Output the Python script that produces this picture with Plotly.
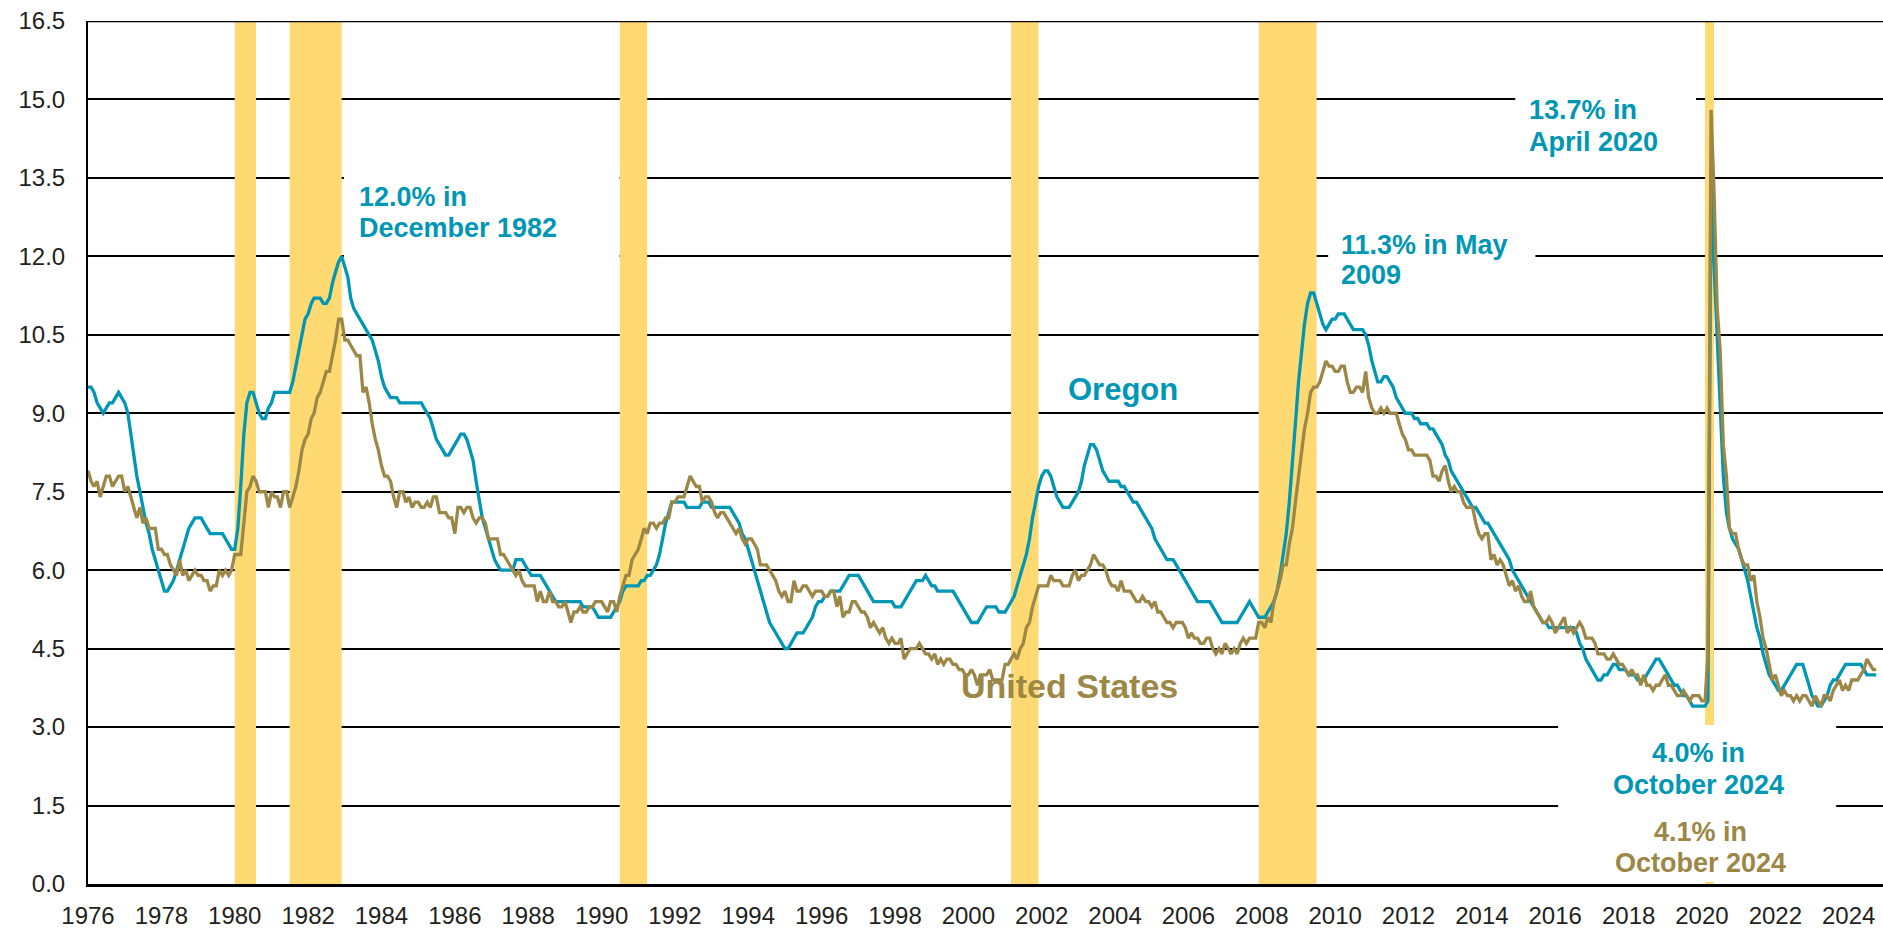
import pandas as pd
import plotly.graph_objects as go

# ---------------- data ----------------
months = pd.date_range("1976-01-01", "2024-10-01", freq="MS")

oregon_rate = [
    9.5, 9.5, 9.4, 9.2, 9.1, 9.0, 9.1, 9.2, 9.2, 9.3, 9.4, 9.3,   # 1976
    9.2, 9.0, 8.6, 8.2, 7.8, 7.5, 7.2, 6.9, 6.7, 6.4, 6.2, 6.0,   # 1977
    5.8, 5.6, 5.6, 5.7, 5.8, 6.0, 6.2, 6.4, 6.6, 6.8, 6.9, 7.0,   # 1978
    7.0, 7.0, 6.9, 6.8, 6.7, 6.7, 6.7, 6.7, 6.7, 6.6, 6.5, 6.4,   # 1979
    6.4, 6.8, 7.6, 8.6, 9.2, 9.4, 9.4, 9.2, 9.0, 8.9, 8.9, 9.1,   # 1980
    9.2, 9.4, 9.4, 9.4, 9.4, 9.4, 9.4, 9.6, 9.9, 10.2, 10.5, 10.8,  # 1981
    10.9, 11.1, 11.2, 11.2, 11.2, 11.1, 11.1, 11.2, 11.5, 11.7, 11.9, 12.0,  # 1982
    11.8, 11.6, 11.2, 11.0, 10.9, 10.8, 10.7, 10.6, 10.5, 10.4, 10.2, 10.0,  # 1983
    9.7, 9.5, 9.4, 9.3, 9.3, 9.3, 9.2, 9.2, 9.2, 9.2, 9.2, 9.2,   # 1984
    9.2, 9.2, 9.1, 9.0, 8.9, 8.7, 8.5, 8.4, 8.3, 8.2, 8.2, 8.3,   # 1985
    8.4, 8.5, 8.6, 8.6, 8.5, 8.3, 8.1, 7.7, 7.3, 7.0, 6.8, 6.6,   # 1986
    6.4, 6.2, 6.1, 6.0, 6.0, 6.0, 6.0, 6.0, 6.2, 6.2, 6.2, 6.1,   # 1987
    6.0, 5.9, 5.9, 5.9, 5.9, 5.8, 5.7, 5.6, 5.5, 5.4, 5.4, 5.4,   # 1988
    5.4, 5.4, 5.4, 5.4, 5.4, 5.4, 5.3, 5.3, 5.3, 5.3, 5.2, 5.1,   # 1989
    5.1, 5.1, 5.1, 5.1, 5.2, 5.3, 5.4, 5.6, 5.7, 5.7, 5.7, 5.7,   # 1990
    5.7, 5.8, 5.8, 5.9, 5.9, 6.0, 6.1, 6.3, 6.6, 6.9, 7.1, 7.3,   # 1991
    7.3, 7.3, 7.3, 7.3, 7.2, 7.2, 7.2, 7.2, 7.2, 7.3, 7.3, 7.3,   # 1992
    7.2, 7.2, 7.2, 7.2, 7.2, 7.2, 7.2, 7.1, 7.0, 6.9, 6.7, 6.6,   # 1993
    6.4, 6.2, 6.0, 5.8, 5.6, 5.4, 5.2, 5.0, 4.9, 4.8, 4.7, 4.6,   # 1994
    4.5, 4.5, 4.6, 4.7, 4.8, 4.8, 4.8, 4.9, 5.0, 5.1, 5.3, 5.4,   # 1995
    5.4, 5.5, 5.5, 5.6, 5.6, 5.6, 5.6, 5.7, 5.8, 5.9, 5.9, 5.9,   # 1996
    5.9, 5.8, 5.7, 5.6, 5.5, 5.4, 5.4, 5.4, 5.4, 5.4, 5.4, 5.4,   # 1997
    5.3, 5.3, 5.3, 5.4, 5.5, 5.6, 5.7, 5.8, 5.8, 5.8, 5.9, 5.8,   # 1998
    5.7, 5.7, 5.6, 5.6, 5.6, 5.6, 5.6, 5.6, 5.5, 5.4, 5.3, 5.2,   # 1999
    5.1, 5.0, 5.0, 5.0, 5.1, 5.2, 5.3, 5.3, 5.3, 5.3, 5.2, 5.2,   # 2000
    5.2, 5.3, 5.4, 5.5, 5.7, 5.9, 6.1, 6.3, 6.6, 7.0, 7.3, 7.6,   # 2001
    7.8, 7.9, 7.9, 7.8, 7.6, 7.4, 7.3, 7.2, 7.2, 7.2, 7.3, 7.4,   # 2002
    7.5, 7.7, 8.0, 8.2, 8.4, 8.4, 8.3, 8.1, 7.9, 7.8, 7.7, 7.7,   # 2003
    7.7, 7.7, 7.6, 7.6, 7.5, 7.4, 7.3, 7.3, 7.2, 7.1, 7.0, 6.9,   # 2004
    6.8, 6.6, 6.5, 6.4, 6.3, 6.2, 6.2, 6.2, 6.1, 6.0, 5.9, 5.8,   # 2005
    5.7, 5.6, 5.5, 5.4, 5.4, 5.4, 5.4, 5.4, 5.3, 5.2, 5.1, 5.0,   # 2006
    5.0, 5.0, 5.0, 5.0, 5.0, 5.1, 5.2, 5.3, 5.4, 5.3, 5.2, 5.1,   # 2007
    5.1, 5.1, 5.2, 5.3, 5.4, 5.6, 5.9, 6.3, 6.7, 7.3, 8.0, 8.8,   # 2008
    9.6, 10.2, 10.7, 11.1, 11.3, 11.3, 11.1, 10.9, 10.7, 10.6, 10.7, 10.8,  # 2009
    10.8, 10.9, 10.9, 10.9, 10.8, 10.7, 10.6, 10.6, 10.6, 10.6, 10.5, 10.3,  # 2010
    10.0, 9.8, 9.6, 9.6, 9.7, 9.7, 9.6, 9.5, 9.3, 9.2, 9.1, 9.0,  # 2011
    9.0, 9.0, 8.9, 8.9, 8.8, 8.8, 8.8, 8.7, 8.7, 8.6, 8.5, 8.4,   # 2012
    8.2, 8.1, 7.9, 7.8, 7.7, 7.6, 7.5, 7.4, 7.3, 7.2, 7.2, 7.1,   # 2013
    7.0, 6.9, 6.9, 6.8, 6.7, 6.6, 6.5, 6.4, 6.3, 6.2, 6.0, 5.9,   # 2014
    5.8, 5.7, 5.6, 5.5, 5.4, 5.3, 5.2, 5.1, 5.0, 5.0, 4.9, 4.9,   # 2015
    4.9, 4.9, 4.9, 4.9, 4.9, 4.9, 4.9, 4.8, 4.6, 4.5, 4.3, 4.2,   # 2016
    4.1, 4.0, 3.9, 3.9, 4.0, 4.0, 4.1, 4.2, 4.2, 4.1, 4.1, 4.1,   # 2017
    4.0, 4.0, 4.0, 3.9, 3.9, 3.9, 4.0, 4.1, 4.2, 4.3, 4.3, 4.2,   # 2018
    4.1, 4.0, 3.9, 3.8, 3.8, 3.7, 3.6, 3.6, 3.5, 3.4, 3.4, 3.4,   # 2019
    3.4, 3.4, 3.5, 13.7, 11.8, 10.4, 8.9, 7.8, 7.1, 6.8, 6.6, 6.5,  # 2020
    6.4, 6.2, 6.0, 5.8, 5.5, 5.2, 4.9, 4.7, 4.4, 4.2, 4.0, 3.9,   # 2021
    3.8, 3.7, 3.7, 3.8, 3.9, 4.0, 4.1, 4.2, 4.2, 4.2, 4.0, 3.8,   # 2022
    3.6, 3.5, 3.4, 3.4, 3.5, 3.6, 3.8, 3.9, 3.9, 4.0, 4.1, 4.2,   # 2023
    4.2, 4.2, 4.2, 4.2, 4.2, 4.1, 4.0, 4.0, 4.0, 4.0,             # 2024
]

us_rate = [
    7.9, 7.7, 7.6, 7.7, 7.4, 7.6, 7.8, 7.8, 7.6, 7.7, 7.8, 7.8,   # 1976
    7.5, 7.6, 7.4, 7.2, 7.0, 7.2, 6.9, 7.0, 6.8, 6.8, 6.8, 6.4,   # 1977
    6.4, 6.3, 6.3, 6.1, 6.0, 5.9, 6.2, 5.9, 6.0, 5.8, 5.9, 6.0,   # 1978
    5.9, 5.9, 5.8, 5.8, 5.6, 5.7, 5.7, 6.0, 5.9, 6.0, 5.9, 6.0,   # 1979
    6.3, 6.3, 6.3, 6.9, 7.5, 7.6, 7.8, 7.7, 7.5, 7.5, 7.5, 7.2,   # 1980
    7.5, 7.4, 7.4, 7.2, 7.5, 7.5, 7.2, 7.4, 7.6, 7.9, 8.3, 8.5,   # 1981
    8.6, 8.9, 9.0, 9.3, 9.4, 9.6, 9.8, 9.8, 10.1, 10.4, 10.8, 10.8,  # 1982
    10.4, 10.4, 10.3, 10.2, 10.1, 10.1, 9.4, 9.5, 9.2, 8.8, 8.5, 8.3,  # 1983
    8.0, 7.8, 7.8, 7.7, 7.4, 7.2, 7.5, 7.5, 7.3, 7.4, 7.2, 7.3,   # 1984
    7.3, 7.2, 7.2, 7.3, 7.2, 7.4, 7.4, 7.1, 7.1, 7.1, 7.0, 7.0,   # 1985
    6.7, 7.2, 7.2, 7.1, 7.2, 7.2, 7.0, 6.9, 7.0, 7.0, 6.9, 6.6,   # 1986
    6.6, 6.6, 6.6, 6.3, 6.3, 6.2, 6.1, 6.0, 5.9, 6.0, 5.8, 5.7,   # 1987
    5.7, 5.7, 5.7, 5.4, 5.6, 5.4, 5.4, 5.6, 5.4, 5.4, 5.3, 5.3,   # 1988
    5.4, 5.2, 5.0, 5.2, 5.2, 5.3, 5.2, 5.2, 5.3, 5.3, 5.4, 5.4,   # 1989
    5.4, 5.3, 5.2, 5.4, 5.4, 5.2, 5.5, 5.7, 5.9, 5.9, 6.2, 6.3,   # 1990
    6.4, 6.6, 6.8, 6.7, 6.9, 6.9, 6.8, 6.9, 6.9, 7.0, 7.0, 7.3,   # 1991
    7.3, 7.4, 7.4, 7.4, 7.6, 7.8, 7.7, 7.6, 7.6, 7.3, 7.4, 7.4,   # 1992
    7.3, 7.1, 7.0, 7.1, 7.1, 7.0, 6.9, 6.8, 6.7, 6.8, 6.6, 6.5,   # 1993
    6.6, 6.6, 6.5, 6.4, 6.1, 6.1, 6.1, 6.0, 5.9, 5.8, 5.6, 5.5,   # 1994
    5.6, 5.4, 5.4, 5.8, 5.6, 5.6, 5.7, 5.7, 5.6, 5.5, 5.6, 5.6,   # 1995
    5.6, 5.5, 5.5, 5.6, 5.6, 5.3, 5.5, 5.1, 5.2, 5.2, 5.4, 5.4,   # 1996
    5.3, 5.2, 5.2, 5.1, 4.9, 5.0, 4.9, 4.8, 4.9, 4.7, 4.6, 4.7,   # 1997
    4.6, 4.6, 4.7, 4.3, 4.4, 4.5, 4.5, 4.5, 4.6, 4.5, 4.4, 4.4,   # 1998
    4.3, 4.4, 4.2, 4.3, 4.2, 4.3, 4.3, 4.2, 4.2, 4.1, 4.1, 4.0,   # 1999
    4.0, 4.1, 4.0, 3.8, 4.0, 4.0, 4.0, 4.1, 3.9, 3.9, 3.9, 3.9,   # 2000
    4.2, 4.2, 4.3, 4.4, 4.3, 4.5, 4.6, 4.9, 5.0, 5.3, 5.5, 5.7,   # 2001
    5.7, 5.7, 5.7, 5.9, 5.8, 5.8, 5.8, 5.7, 5.7, 5.7, 5.9, 6.0,   # 2002
    5.8, 5.9, 5.9, 6.0, 6.1, 6.3, 6.2, 6.1, 6.1, 6.0, 5.8, 5.7,   # 2003
    5.7, 5.6, 5.8, 5.6, 5.6, 5.6, 5.5, 5.4, 5.4, 5.5, 5.4, 5.4,   # 2004
    5.3, 5.4, 5.2, 5.2, 5.1, 5.0, 5.0, 4.9, 5.0, 5.0, 5.0, 4.9,   # 2005
    4.7, 4.8, 4.7, 4.7, 4.6, 4.6, 4.7, 4.7, 4.5, 4.4, 4.5, 4.4,   # 2006
    4.6, 4.5, 4.4, 4.5, 4.4, 4.6, 4.7, 4.6, 4.7, 4.7, 4.7, 5.0,   # 2007
    5.0, 4.9, 5.1, 5.0, 5.4, 5.6, 5.8, 6.1, 6.1, 6.5, 6.8, 7.3,   # 2008
    7.8, 8.3, 8.7, 9.0, 9.4, 9.5, 9.5, 9.6, 9.8, 10.0, 9.9, 9.9,  # 2009
    9.8, 9.8, 9.9, 9.9, 9.6, 9.4, 9.4, 9.5, 9.5, 9.4, 9.8, 9.3,   # 2010
    9.1, 9.0, 9.0, 9.1, 9.0, 9.1, 9.0, 9.0, 9.0, 8.8, 8.6, 8.5,   # 2011
    8.3, 8.3, 8.2, 8.2, 8.2, 8.2, 8.2, 8.1, 7.8, 7.8, 7.7, 7.9,   # 2012
    8.0, 7.7, 7.5, 7.6, 7.5, 7.5, 7.3, 7.2, 7.2, 7.2, 6.9, 6.7,   # 2013
    6.6, 6.7, 6.7, 6.2, 6.3, 6.1, 6.2, 6.1, 5.9, 5.7, 5.8, 5.6,   # 2014
    5.7, 5.5, 5.4, 5.4, 5.6, 5.3, 5.2, 5.1, 5.0, 5.0, 5.1, 5.0,   # 2015
    4.8, 4.9, 5.0, 5.1, 4.8, 4.9, 4.8, 4.9, 5.0, 4.9, 4.7, 4.7,   # 2016
    4.7, 4.6, 4.4, 4.4, 4.4, 4.3, 4.3, 4.4, 4.3, 4.2, 4.2, 4.1,   # 2017
    4.0, 4.1, 4.0, 4.0, 3.8, 4.0, 3.8, 3.8, 3.7, 3.8, 3.8, 3.9,   # 2018
    4.0, 3.8, 3.8, 3.7, 3.6, 3.6, 3.7, 3.6, 3.5, 3.6, 3.6, 3.6,   # 2019
    3.5, 3.5, 4.4, 14.8, 13.2, 11.0, 10.2, 8.4, 7.8, 6.8, 6.7, 6.7,  # 2020
    6.4, 6.2, 6.1, 6.1, 5.8, 5.9, 5.4, 5.1, 4.7, 4.5, 4.2, 3.9,   # 2021
    4.0, 3.8, 3.6, 3.7, 3.6, 3.6, 3.5, 3.6, 3.5, 3.6, 3.6, 3.5,   # 2022
    3.4, 3.6, 3.5, 3.4, 3.6, 3.6, 3.5, 3.7, 3.8, 3.9, 3.7, 3.8,   # 2023
    3.7, 3.9, 3.9, 3.9, 4.0, 4.1, 4.3, 4.2, 4.1, 4.1,             # 2024
]

recession_starts = ["1980-01-01", "1981-07-01", "1990-07-01", "2001-03-01", "2007-12-01", "2020-02-01"]
recession_ends = ["1980-07-31", "1982-12-01", "1991-03-31", "2001-11-30", "2009-06-30", "2020-04-30"]

tick_years = list(range(1976, 2025, 2))
tick_labels = [str(y) for y in tick_years]
y_ticks = [0.0, 1.5, 3.0, 4.5, 6.0, 7.5, 9.0, 10.5, 12.0, 13.5, 15.0, 16.5]
y_tick_labels = [f"{v:.1f}" for v in y_ticks]

# ---------------- style ----------------
TEAL = "#0096B5"
OLIVE = "#9C8746"
BAND = "#FFD972"
INK = "#231F20"
FONT = "Liberation Sans, Arial, sans-serif"


def yr(frac_year):
    """fractional year -> date string (layout positioning helper)"""
    ts = pd.Timestamp(int(frac_year), 1, 1) + pd.Timedelta(days=(frac_year % 1) * 365.25)
    return ts.strftime("%Y-%m-%d")


fig = go.Figure()

fig.add_trace(go.Scatter(x=months, y=oregon_rate, mode="lines", name="Oregon",
                         line=dict(color=TEAL, width=3.3), hoverinfo="skip"))
fig.add_trace(go.Scatter(x=months, y=us_rate, mode="lines", name="United States",
                         line=dict(color=OLIVE, width=3.3), hoverinfo="skip"))

shapes = []
for s, e in zip(recession_starts, recession_ends):
    shapes.append(dict(type="rect", xref="x", yref="y", x0=s, x1=e, y0=0, y1=16.5,
                       fillcolor=BAND, line=dict(width=0), layer="between"))

# white label boxes (hide gridlines behind annotation text): (x0_year, x1_year, y0, y1)
label_boxes = [
    (1982.98, 1990.49, 11.85, 13.75),
    (2009.81, 2015.46, 11.45, 12.45),
    (2014.91, 2019.84, 14.3, 15.2),
    (2016.08, 2023.66, 0.04, 3.04),
]
for x0, x1, y0, y1 in label_boxes:
    shapes.append(dict(type="rect", xref="x", yref="y", x0=yr(x0), x1=yr(x1), y0=y0, y1=y1,
                       fillcolor="white", line=dict(width=0), layer="between"))

# heavy top border line
shapes.append(dict(type="line", xref="paper", yref="y", x0=0, x1=1, y0=16.5, y1=16.5,
                   line=dict(color="black", width=2.6), layer="above"))

fig.update_layout(shapes=shapes)


def label(text, xyear, yval, color, size=27, anchor="left"):
    fig.add_annotation(x=yr(xyear), y=yval, xref="x", yref="y", text=f"<b>{text}</b>",
                       showarrow=False, xanchor=anchor, yanchor="middle",
                       font=dict(family=FONT, size=size, color=color),
                       borderpad=0, borderwidth=0)


label("12.0% in", 1983.38, 13.14, TEAL)
label("December 1982", 1983.38, 12.54, TEAL)
label("13.7% in", 2015.29, 14.80, TEAL)
label("April 2020", 2015.29, 14.19, TEAL)
label("11.3% in May", 2010.16, 12.22, TEAL)
label("2009", 2010.16, 11.64, TEAL)
label("4.0% in", 2019.90, 2.50, TEAL, anchor="center")
label("October 2024", 2019.90, 1.89, TEAL, anchor="center")
label("4.1% in", 2019.95, 0.99, OLIVE, anchor="center")
label("October 2024", 2019.95, 0.40, OLIVE, anchor="center")
label("Oregon", 2004.23, 9.46, TEAL, size=31, anchor="center")
label("United States", 2002.76, 3.79, OLIVE, size=34, anchor="center")

fig.update_layout(
    width=1883, height=930,
    margin=dict(l=88, r=0, t=21, b=46),
    paper_bgcolor="white", plot_bgcolor="white",
    showlegend=False,
    font=dict(family=FONT, color=INK, size=24),
    xaxis=dict(
        type="date",
        range=["1976-01-01", "2024-12-08"],
        tickvals=[f"{y}-01-01" for y in tick_years],
        ticktext=tick_labels,
        showgrid=False, zeroline=False,
        showline=True, linecolor="black", linewidth=3,
        ticks="", tickfont=dict(family=FONT, size=24, color=INK),
        ticklabelstandoff=8,
    ),
    yaxis=dict(
        range=[0, 16.5],
        tickvals=y_ticks, ticktext=y_tick_labels,
        showgrid=True, gridcolor="black", gridwidth=1.6,
        zeroline=False,
        showline=True, linecolor="black", linewidth=2,
        ticks="", tickfont=dict(family=FONT, size=24, color=INK),
        ticklabelstandoff=16,
    ),
)

fig.write_html("out.html", config={"displayModeBar": False},
               post_script="document.body.style.margin='0';document.body.style.overflow='hidden';")
